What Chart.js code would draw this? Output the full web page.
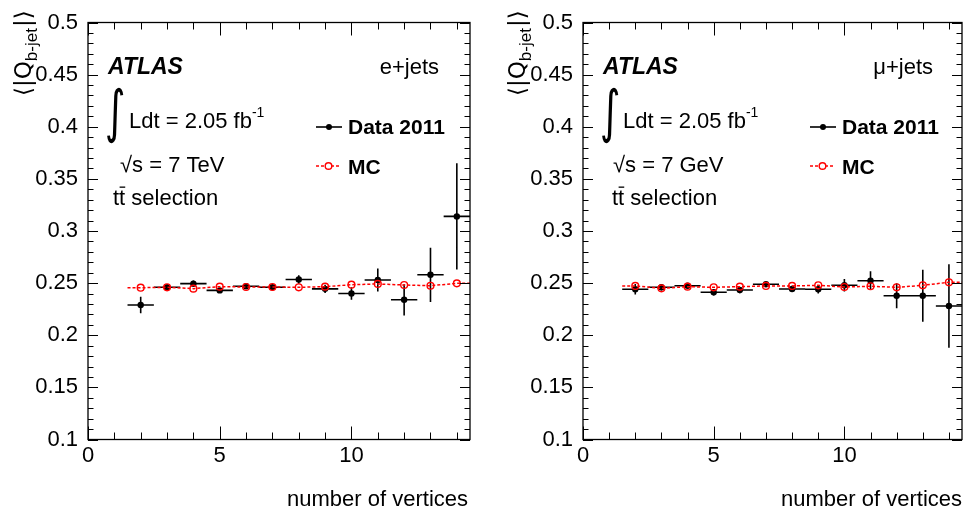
<!DOCTYPE html>
<html>
<head>
<meta charset="utf-8">
<script src="https://cdn.jsdelivr.net/npm/chart.js@4"></script>
<style>
  body { margin: 0; background: #fff; width: 966px; height: 508px; overflow: hidden; position: relative; }
  canvas { position: absolute; top: 0; }
</style>
</head>
<body>
<canvas id="eChart" width="483" height="508" style="left:0"></canvas>
<canvas id="muChart" width="483" height="508" style="left:483px"></canvas>
<script>
// --- data ---
const vertices = [2, 3, 4, 5, 6, 7, 8, 9, 10, 11, 12, 13, 14];

const eData    = [0.229, 0.246, 0.2495, 0.243, 0.247, 0.246, 0.2535, 0.2445, 0.240, 0.253, 0.234, 0.258, 0.314];
const eDataErr = [0.008, 0.003, 0.003, 0.002, 0.002, 0.002, 0.004, 0.004, 0.006, 0.011, 0.015, 0.026, 0.051];
const eMC      = [0.2456, 0.246, 0.2447, 0.2466, 0.2463, 0.2463, 0.246, 0.2466, 0.2485, 0.2492, 0.2482, 0.2475, 0.2498];

const muData    = [0.2441, 0.246, 0.2475, 0.2412, 0.2434, 0.2489, 0.2444, 0.2441, 0.2479, 0.2523, 0.2379, 0.2379, 0.228];
const muDataErr = [0.005, 0.003, 0.002, 0.003, 0.003, 0.002, 0.003, 0.004, 0.006, 0.009, 0.012, 0.025, 0.040];
const muMC      = [0.2473, 0.245, 0.2466, 0.246, 0.2466, 0.2473, 0.2473, 0.2479, 0.2463, 0.247, 0.246, 0.2479, 0.2508];

const binHalfWidth = 0.5;
const xTicks = [0, 5, 10];
const yTicks = [0.1, 0.15, 0.2, 0.25, 0.3, 0.35, 0.4, 0.45, 0.5];

const FONT = "'Liberation Sans', Arial, Helvetica, sans-serif";
Chart.defaults.font.family = FONT;
Chart.defaults.color = '#000';

function richText(ctx, x, y, parts) {
    let cx = x;
    parts.forEach(p => {
        ctx.font = `${p.style || ''} ${p.weight || ''} ${p.size}px ${p.family || FONT}`;
        ctx.fillText(p.text, cx, y + (p.dy || 0));
        cx += ctx.measureText(p.text).width + (p.gap || 0);
    });
    return cx;
}

// ROOT-like frame with inward ticks on all four sides
const frameTicks = {
    id: 'frameTicks',
    afterDraw(chart) {
        const { ctx, chartArea: a, scales: { x, y } } = chart;
        ctx.save();
        ctx.strokeStyle = '#000';
        ctx.lineWidth = 1.3;
        ctx.strokeRect(a.left, a.top, a.right - a.left, a.bottom - a.top);
        ctx.lineWidth = 1;
        ctx.beginPath();
        for (let i = 10; i <= 50; i++) {
            const py = Math.round(y.getPixelForValue(i / 100)) + 0.5;
            const len = i % 5 === 0 ? 10 : 5.5;
            ctx.moveTo(a.left, py); ctx.lineTo(a.left + len, py);
            ctx.moveTo(a.right, py); ctx.lineTo(a.right - len, py);
        }
        for (let i = 0; i <= 14; i++) {
            const px = Math.round(x.getPixelForValue(i)) + 0.5;
            const len = i % 5 === 0 ? 13 : 7;
            ctx.moveTo(px, a.bottom); ctx.lineTo(px, a.bottom - len);
            ctx.moveTo(px, a.top); ctx.lineTo(px, a.top + len);
        }
        ctx.stroke();
        ctx.restore();
    }
};

// error bars for the data points
const errorBars = {
    id: 'errorBars',
    beforeDatasetsDraw(chart) {
        const { ctx, scales: { x, y } } = chart;
        const errs = chart.options.plugins.errorBars.errors;
        const pts = chart.data.datasets[1].data;
        ctx.save();
        ctx.strokeStyle = '#000';
        ctx.lineWidth = 1.6;
        ctx.beginPath();
        pts.forEach((p, i) => {
            const px = x.getPixelForValue(p.x);
            const py = y.getPixelForValue(p.y);
            ctx.moveTo(x.getPixelForValue(p.x - binHalfWidth), py);
            ctx.lineTo(x.getPixelForValue(p.x + binHalfWidth), py);
            ctx.moveTo(px, y.getPixelForValue(p.y + errs[i]));
            ctx.lineTo(px, y.getPixelForValue(p.y - errs[i]));
        });
        ctx.stroke();
        ctx.restore();
    }
};

// labels, legend and axis titles
const annotations = {
    id: 'annotations',
    afterDraw(chart) {
        const { ctx } = chart;
        const o = chart.options.plugins.annotations;
        ctx.save();
        ctx.fillStyle = '#000';
        ctx.textBaseline = 'alphabetic';
        ctx.textAlign = 'left';

        richText(ctx, o.atlasX, 74, [{ text: 'ATLAS', size: 23, weight: 'bold', style: 'italic' }]);

        ctx.font = `22px ${FONT}`;
        ctx.textAlign = 'right';
        ctx.fillText(o.channel, o.channelRight, 74);
        ctx.textAlign = 'left';

        // integral sign
        ctx.save();
        ctx.translate(o.intX, 116);
        ctx.scale(1.1, 1.6);
        ctx.font = `36px 'DejaVu Sans', sans-serif`;
        ctx.textBaseline = 'middle';
        ctx.fillText('\u222B', 0, 0);
        ctx.restore();

        richText(ctx, o.ldtX, 128, [
            { text: 'Ldt = 2.05 fb', size: 22 },
            { text: '-1', size: 14, dy: -11 }
        ]);
        richText(ctx, o.sqrtX, 172, [{ text: '\u221As = 7 ' + o.energy, size: 22 }]);

        ctx.font = `22px ${FONT}`;
        ctx.fillText('tt selection', o.ttX, 205);
        const tw = ctx.measureText('t').width;
        ctx.fillRect(o.ttX + tw + 0.5, 186.5, tw - 0.5, 1.3);

        // legend
        ctx.strokeStyle = '#000';
        ctx.lineWidth = 1.6;
        ctx.beginPath();
        ctx.moveTo(o.legX, 127); ctx.lineTo(o.legX + 26, 127);
        ctx.stroke();
        ctx.beginPath();
        ctx.arc(o.legX + 13, 127, 3, 0, Math.PI * 2);
        ctx.fill();
        richText(ctx, o.legTextX, 134, [{ text: 'Data 2011', size: 21, weight: 'bold' }]);

        ctx.strokeStyle = '#ff0000';
        ctx.lineWidth = 1.5;
        ctx.setLineDash([3, 2]);
        ctx.beginPath();
        ctx.moveTo(o.legX, 166); ctx.lineTo(o.legX + 24, 166);
        ctx.stroke();
        ctx.setLineDash([]);
        ctx.fillStyle = '#fff';
        ctx.lineWidth = 1.4;
        ctx.beginPath();
        ctx.arc(o.legX + 12.5, 166, 3.3, 0, Math.PI * 2);
        ctx.fill(); ctx.stroke();
        ctx.fillStyle = '#000';
        richText(ctx, o.legTextX, 174, [{ text: 'MC', size: 21, weight: 'bold' }]);

        // x title
        ctx.font = `22px ${FONT}`;
        ctx.textAlign = 'right';
        ctx.fillText('number of vertices', o.xTitleRight, 506);
        ctx.textAlign = 'left';

        // y title (rotated)
        ctx.save();
        ctx.translate(o.yTitleX, 96);
        ctx.rotate(-Math.PI / 2);
        richText(ctx, 0, 0, [
            { text: '\u27E8|Q', size: 23, family: "'DejaVu Sans', sans-serif" },
            { text: 'b-jet', size: 17, dy: 6, gap: 1 },
            { text: '|\u27E9', size: 23, family: "'DejaVu Sans', sans-serif" }
        ]);
        ctx.restore();

        ctx.restore();
    }
};

function makePanel(id, data, errs, mc, cfg) {
    const points = vertices.map((v, i) => ({ x: v, y: data[i] }));
    const mcLine = [{ x: vertices[0] - binHalfWidth, y: mc[0] }]
        .concat(vertices.map((v, i) => ({ x: v, y: mc[i] })))
        .concat([{ x: vertices[vertices.length - 1] + binHalfWidth, y: mc[mc.length - 1] }]);
    const lastIdx = mcLine.length - 1;

    return new Chart(document.getElementById(id), {
        type: 'scatter',
        data: {
            datasets: [
                {
                    label: 'MC',
                    data: mcLine,
                    showLine: true,
                    borderColor: '#ff0000',
                    borderWidth: 1.5,
                    borderDash: [3, 2],
                    pointRadius: c => (c.dataIndex === 0 || c.dataIndex === lastIdx) ? 0 : 3.4,
                    pointBorderColor: '#ff0000',
                    pointBackgroundColor: 'rgba(255,255,255,0)',
                    pointBorderWidth: 1.4,
                    order: 0
                },
                {
                    label: 'Data 2011',
                    data: points,
                    showLine: false,
                    pointRadius: 3.2,
                    pointBackgroundColor: '#000',
                    pointBorderColor: '#000',
                    pointBorderWidth: 0,
                    order: 1
                }
            ]
        },
        options: {
            responsive: false,
            animation: false,
            events: [],
            layout: { padding: { left: 0, right: cfg.padRight, top: 22.5, bottom: 0 } },
            scales: {
                x: {
                    type: 'linear',
                    min: 0,
                    max: 14.5,
                    afterBuildTicks: s => { s.ticks = xTicks.map(v => ({ value: v })); },
                    afterFit: s => { s.height = 68.5; },
                    ticks: { font: { size: 22 }, padding: -5, maxRotation: 0, autoSkip: false },
                    grid: { display: false },
                    border: { display: false }
                },
                y: {
                    type: 'linear',
                    min: 0.1,
                    max: 0.5,
                    afterBuildTicks: s => { s.ticks = yTicks.map(v => ({ value: v })); },
                    afterFit: s => { s.width = cfg.yWidth; },
                    ticks: { font: { size: 22 }, padding: 2, callback: v => String(+v.toFixed(2)) },
                    grid: { display: false },
                    border: { display: false }
                }
            },
            plugins: {
                legend: { display: false },
                tooltip: { enabled: false },
                errorBars: { errors: errs },
                annotations: cfg.labels
            }
        },
        plugins: [errorBars, frameTicks, annotations]
    });
}

makePanel('eChart', eData, eDataErr, eMC, {
    yWidth: 88, padRight: 13,
    labels: {
        channel: 'e+jets', energy: 'TeV',
        atlasX: 108, channelRight: 439, intX: 105, ldtX: 129, sqrtX: 120, ttX: 113,
        legX: 316, legTextX: 348, xTitleRight: 468, yTitleX: 31
    }
});

makePanel('muChart', muData, muDataErr, muMC, {
    yWidth: 100, padRight: 3,
    labels: {
        channel: '\u03BC+jets', energy: 'GeV',
        atlasX: 120, channelRight: 450, intX: 117, ldtX: 140, sqrtX: 130, ttX: 129,
        legX: 327, legTextX: 359, xTitleRight: 479, yTitleX: 42
    }
});
</script>
</body>
</html>
